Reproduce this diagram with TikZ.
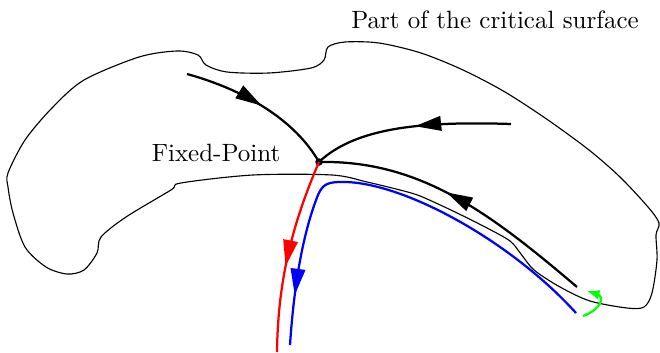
\documentclass[tikz,border=0pt]{standalone}
\usepackage{tikz}
\usetikzlibrary{arrows.meta,decorations.markings}

\begin{document}
\begin{tikzpicture}[
  x=0.4pt, y=-0.4pt,
  surface/.style={line width=0.45pt},
  flow/.style={line width=0.9pt, postaction={decorate, decoration={markings,
      mark=at position #1 with {\arrow{Triangle[length=10.5pt,width=5.8pt]}}}}},
  fixpt/.style={circle, fill, inner sep=0pt, minimum size=3pt}
]
\useasboundingbox (0,0) rectangle (660,353);
% critical surface
\draw[surface] plot[smooth cycle] coordinates {
  (8,173) (25,140) (52,108) (84,80) (139,57) (177,51) (198,55) (206,65) (227,72)
  (269,73) (311,68) (324,60) (328,47) (345,42) (379,43) (421,53) (463,70)
  (505,92) (548,120) (589,150) (620,177) (648,207) (659,223) (656,235)
  (657,260) (652,293) (644,307) (627,308) (590,301) (560,287) (534,270)
  (521,254) (510,241) (487,228) (453,211) (420,196) (400,190) (367,182)
  (332,175) (253,175) (181,183) (171,190) (126,217) (101,237)
  (97,253) (84,270) (67,274) (46,267) (25,247) (13,213) (8,187)};
\node (title) at (495,20) {Part of the critical surface};
\node (fplabel) at (216,153) {Fixed-Point};
\node[fixpt] (fp) at (319,162) {};
\coordinate (in1) at (187,74);
\coordinate (in2) at (511,124);
\coordinate (in3) at (577,287);
\coordinate (outr) at (277,352);
\coordinate (bstart) at (576,313);
\coordinate (bend) at (290,345);
\coordinate (gstart) at (583,316);
\coordinate (gend) at (587,291);
% flows into the fixed point
\draw[flow=0.5] (in1) .. controls (245,90) and (295,120) .. (fp.center);
\draw[flow=0.48] (in2) .. controls (420,121) and (355,128) .. (fp.center);
\draw[flow=0.55] (in3) .. controls (490,213) and (420,160) .. (fp.center);
% relevant direction
\draw[flow=0.56, red] (fp.center) .. controls (292,225) and (278,280) .. (outr);
\draw[flow=0.89, blue] (bstart) .. controls (510,240) and (400,180) .. (340,182)
  .. controls (326,182) and (322,186) .. (318,195)
  .. controls (300,240) and (293,300) .. (bend);
\draw[line width=0.9pt, green, -{Latex[length=5pt,width=4pt]}] (gstart)
  .. controls (604,308) and (603,296) .. (gend);
\end{tikzpicture}
\end{document}
